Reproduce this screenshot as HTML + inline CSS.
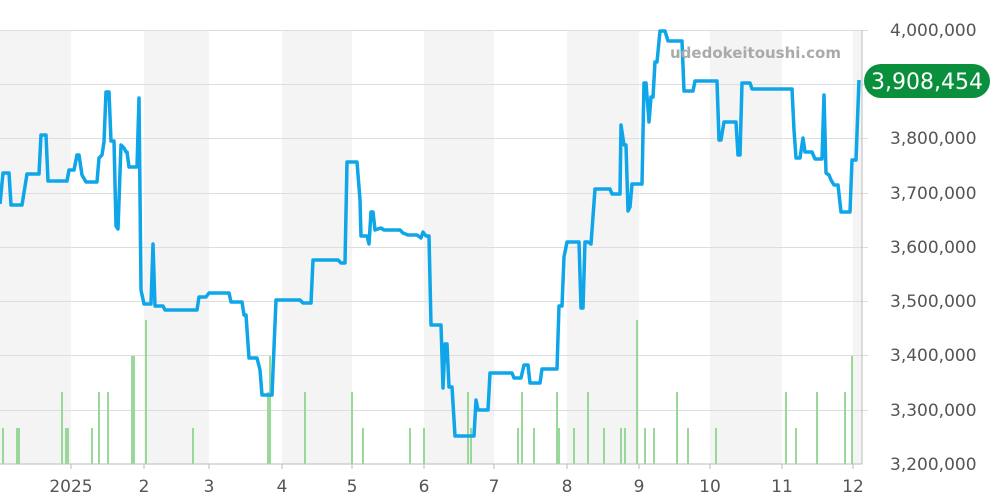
<!DOCTYPE html><html><head><style>body{margin:0;background:#fff}svg{display:block}</style></head><body>
<svg width="1000" height="500" xmlns="http://www.w3.org/2000/svg" font-family="DejaVu Sans, Liberation Sans, sans-serif">
<g fill="#f4f4f4"><rect x="0" y="30" width="71" height="434"/><rect x="144" y="30" width="65" height="434"/><rect x="282" y="30" width="70" height="434"/><rect x="424" y="30" width="70" height="434"/><rect x="567" y="30" width="72" height="434"/><rect x="710" y="30" width="72" height="434"/><rect x="853" y="30" width="9" height="434"/></g>
<g stroke="#ddd" stroke-width="1"><line x1="0" x2="868" y1="30.5" y2="30.5"/><line x1="0" x2="868" y1="84.5" y2="84.5"/><line x1="0" x2="868" y1="138.5" y2="138.5"/><line x1="0" x2="868" y1="193.5" y2="193.5"/><line x1="0" x2="868" y1="247.5" y2="247.5"/><line x1="0" x2="868" y1="301.5" y2="301.5"/><line x1="0" x2="868" y1="355.5" y2="355.5"/><line x1="0" x2="868" y1="410.5" y2="410.5"/></g>
<g stroke="#9ad89a" stroke-width="2">
<path d="M3 464V428M17 464V428M19 464V428M66 464V428M68 464V428M92 464V428M193 464V428M363 464V428M410 464V428M424 464V428M471 464V428M518 464V428M534 464V428M559 464V428M574 464V428M604 464V428M621 464V428M625 464V428M645 464V428M654 464V428M688 464V428M716 464V428M796 464V428"/>
<path d="M62 464V392M99 464V392M108 464V392M305 464V392M352 464V392M468 464V392M522 464V392M557 464V392M588 464V392M677 464V392M786 464V392M817 464V392M845 464V392M268 464V392"/>
<path d="M132 464V356M134 464V356M146 464V320M270 464V356M637 464V320M852 464V356"/>
</g>
<line x1="0" x2="862" y1="464" y2="464" stroke="#bbb"/>
<g stroke="#bbb"><path d="M71 464v5M144 464v5M209 464v5M282 464v5M352 464v5M424 464v5M494 464v5M567 464v5M639 464v5M710 464v5M782 464v5M853 464v5M862 30v434"/></g>
<polyline fill="none" stroke="#0ea5e9" stroke-width="3.5" stroke-linejoin="round" points="0,204 3,173 9,173 11,205 22,205 27,174 39,174 41,135 46,135 48,181 67,181 69,170 74,170 77,155 79,155 82,175 86,182 97,182 99,158 102,155 104,142 106,92 109,92 111,141 114,141 116,226 118,229 121,145 124,148 126,152 127,152 129,167 137,167 139,98 141,290 144,304 151,304 153,244 155,306 163,306 165,310 197,310 199,297 206,297 209,293 229,293 231,302 242,302 244,315 246,315 249,358 257,358 260,370 262,395 272,395 276,300 300,300 303,303 311,303 313,260 338,260 341,263 345,263 347,162 357,162 360,200 361,236 367,236 369,244 371,212 373,212 375,230 381,228 384,230 400,230 403,233 408,235 417,235 421,238 423,232 426,236 429,236 431,325 441,325 443,388 445,344 447,344 449,387 452,387 455,436 474,436 476,400 478,410 488,410 490,373 512,373 514,378 521,378 524,365 528,365 530,383 540,383 542,369 557,369 559,306 562,306 564,257 567,242 579,242 581,308 583,308 585,242 588,242 591,244 595,189 610,189 612,194 620,194 621,125 624,145 626,145 628,211 630,207 632,184 642,184 644,83 646,83 649,122 651,97 653,97 655,62 657,62 660,31 665,31 668,41 682,41 684,91 693,91 695,81 717,81 719,140 721,140 724,122 736,122 738,155 740,155 742,83 750,83 752,89 792,89 794,130 796,158 800,158 803,138 805,152 812,152 815,159 822,159 824,95 826,173 829,175 831,180 834,185 838,185 841,212 850,212 852,160 856,160 859,80"/>
<text x="670" y="58" font-size="15" font-weight="bold" fill="#aaa">udedokeitoushi.com</text>
<g font-size="17" fill="#555"><text x="890" y="36">4,000,000</text><text x="890" y="144">3,800,000</text><text x="890" y="199">3,700,000</text><text x="890" y="253">3,600,000</text><text x="890" y="307">3,500,000</text><text x="890" y="361">3,400,000</text><text x="890" y="416">3,300,000</text><text x="890" y="470">3,200,000</text></g>
<rect x="864" y="64" width="126" height="34" rx="17" fill="#0a8f3c"/>
<text x="927" y="89" font-size="22" fill="#fff" text-anchor="middle">3,908,454</text>
<g font-size="17" fill="#555" text-anchor="middle"><text x="71" y="492">2025</text><text x="144" y="492">2</text><text x="209" y="492">3</text><text x="282" y="492">4</text><text x="352" y="492">5</text><text x="424" y="492">6</text><text x="494" y="492">7</text><text x="567" y="492">8</text><text x="639" y="492">9</text><text x="710" y="492">10</text><text x="782" y="492">11</text><text x="853" y="492">12</text></g>
</svg></body></html>
